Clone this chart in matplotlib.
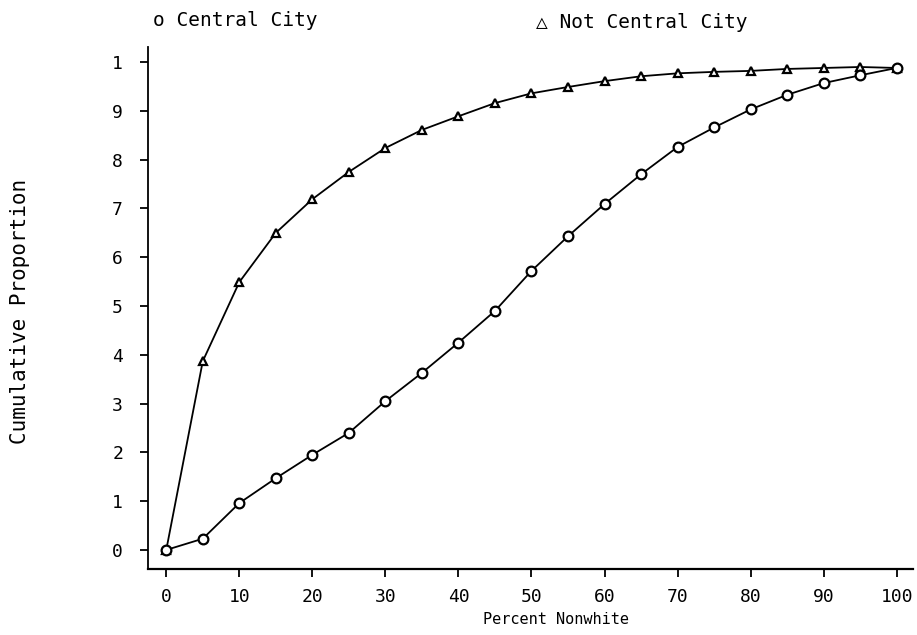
import matplotlib
matplotlib.use("Agg")
import matplotlib.pyplot as plt

# percent nonwhite (x) and cumulative proportion for each group
pct = [0, 5, 10, 15, 20, 25, 30, 35, 40, 45, 50,
       55, 60, 65, 70, 75, 80, 85, 90, 95, 100]
central = [0.0, 0.023, 0.096, 0.147, 0.195, 0.24, 0.305, 0.363, 0.425, 0.49, 0.572,
           0.643, 0.709, 0.77, 0.826, 0.866, 0.903, 0.933, 0.957, 0.973, 0.988]
not_central = [0.0, 0.387, 0.549, 0.65, 0.719, 0.775, 0.824, 0.861, 0.889, 0.916, 0.936,
               0.949, 0.961, 0.971, 0.977, 0.98, 0.982, 0.986, 0.988, 0.99, 0.988]

x_ticks = [0, 10, 20, 30, 40, 50, 60, 70, 80, 90, 100]
y_ticks = [0, 0.1, 0.2, 0.3, 0.4, 0.5, 0.6, 0.7, 0.8, 0.9, 1.0]
y_tick_labels = ["0", "1", "2", "3", "4", "5", "6", "7", "8", "9", "1"]

mono = "DejaVu Sans Mono"

fig = plt.figure(figsize=(9.17, 6.35), dpi=100)
ax = fig.add_axes([0.1614, 0.104, 0.834, 0.822])

ax.plot(pct, not_central, color="black", lw=1.3, marker="^", markersize=6,
        markerfacecolor="white", markeredgecolor="black", markeredgewidth=1.6)
ax.plot(pct, central, color="black", lw=1.3, marker="o", markersize=7,
        markerfacecolor="white", markeredgecolor="black", markeredgewidth=1.6)

ax.set_xlim(-2.5, 102.2)
ax.set_ylim(-0.039, 1.031)
ax.set_xticks(x_ticks)
ax.set_xticklabels([str(v) for v in x_ticks], fontfamily=mono, fontsize=13)
ax.set_yticks(y_ticks)
ax.set_yticklabels(y_tick_labels, fontfamily=mono, fontsize=13)
ax.tick_params(direction="out", length=6, width=1.3)
ax.tick_params(axis="x", pad=8)
ax.tick_params(axis="y", pad=12)

ax.spines["top"].set_visible(False)
ax.spines["right"].set_visible(False)
ax.spines["left"].set_linewidth(1.3)
ax.spines["bottom"].set_linewidth(1.6)

# axis titles placed as in the original plotter output
fig.text(0.606, 0.024, "Percent Nonwhite", ha="center", va="center",
         fontfamily=mono, fontsize=11)
fig.text(0.022, 0.51, "Cumulative Proportion", rotation=90, ha="center",
         va="center", fontfamily=mono, fontsize=15)

fig.text(0.167, 0.968, "o Central City", fontfamily=mono, fontsize=14,
         va="center")
fig.text(0.584, 0.965, "\u25b3 Not Central City", fontfamily=mono, fontsize=14,
         va="center")

fig.savefig("out.png", dpi=100)
